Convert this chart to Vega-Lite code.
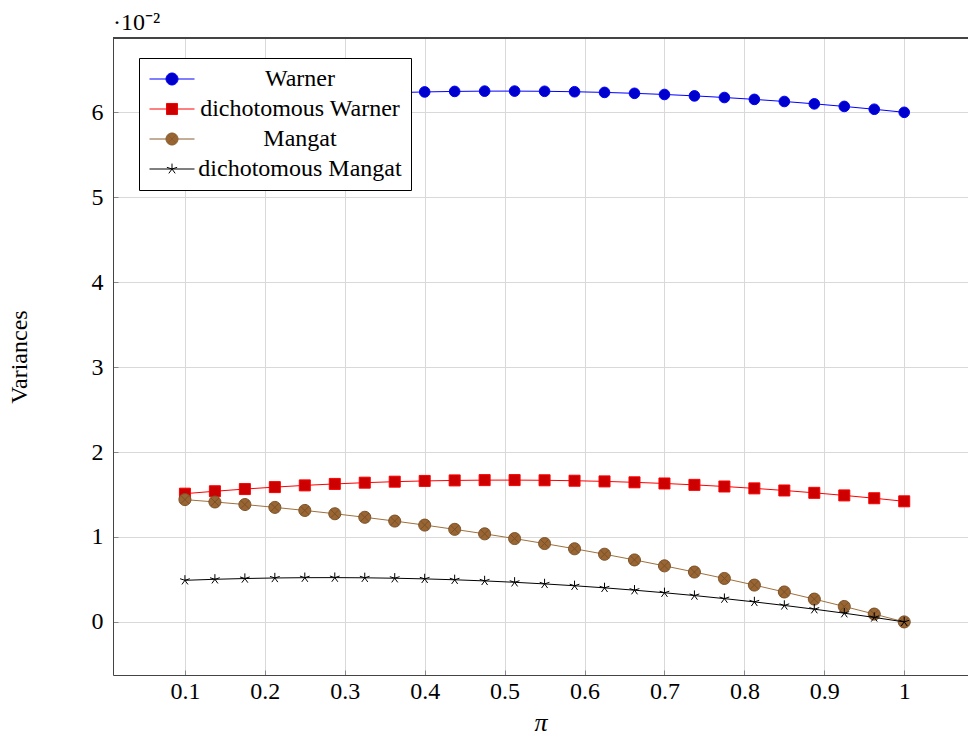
{
  "$schema": "https://vega.github.io/schema/vega-lite/v6.json",
  "width": 855,
  "height": 637,
  "autosize": {"type": "none"},
  "padding": {"left": 113, "top": 38, "right": 0, "bottom": 67},
  "background": "white",
  "config": {
    "view": {"stroke": null},
    "font": "Liberation Serif",
    "axis": {
      "labelFont": "Liberation Serif",
      "labelFontSize": 24,
      "labelColor": "#000000",
      "titleFont": "Liberation Serif",
      "titleFontSize": 24,
      "titleFontWeight": "normal",
      "titleColor": "#000000",
      "gridColor": "#d9d9d9",
      "gridWidth": 1,
      "domainColor": "#444444",
      "domainWidth": 1,
      "tickColor": "#888888",
      "tickSize": -5,
      "tickWidth": 1
    },
    "legend": {
      "labelFont": "Liberation Serif",
      "labelFontSize": 24,
      "labelColor": "#000000",
      "title": null,
      "orient": "none",
      "legendX": 26,
      "legendY": 20,
      "fillColor": "#ffffff",
      "strokeColor": "#000000",
      "padding": 9,
      "symbolOffset": 12,
      "symbolSize": 144,
      "symbolOpacity": 1,
      "symbolStrokeWidth": 1,
      "labelOffset": 116,
      "labelAlign": "center",
      "labelLimit": 400,
      "rowPadding": 6
    }
  },
  "title": {
    "text": "·10⁻²",
    "anchor": "start",
    "frame": "group",
    "font": "Liberation Serif",
    "fontSize": 24,
    "fontWeight": "normal",
    "color": "#000000",
    "offset": 3
  },
  "data": {
    "values": [
      {"pi": 0.1, "v": 6.09, "s": "Warner"},
      {"pi": 0.1375, "v": 6.1186, "s": "Warner"},
      {"pi": 0.175, "v": 6.1444, "s": "Warner"},
      {"pi": 0.2125, "v": 6.1673, "s": "Warner"},
      {"pi": 0.25, "v": 6.1875, "s": "Warner"},
      {"pi": 0.2875, "v": 6.2048, "s": "Warner"},
      {"pi": 0.325, "v": 6.2194, "s": "Warner"},
      {"pi": 0.3625, "v": 6.2311, "s": "Warner"},
      {"pi": 0.4, "v": 6.24, "s": "Warner"},
      {"pi": 0.4375, "v": 6.2461, "s": "Warner"},
      {"pi": 0.475, "v": 6.2494, "s": "Warner"},
      {"pi": 0.5125, "v": 6.2498, "s": "Warner"},
      {"pi": 0.55, "v": 6.2475, "s": "Warner"},
      {"pi": 0.5875, "v": 6.2423, "s": "Warner"},
      {"pi": 0.625, "v": 6.2344, "s": "Warner"},
      {"pi": 0.6625, "v": 6.2236, "s": "Warner"},
      {"pi": 0.7, "v": 6.21, "s": "Warner"},
      {"pi": 0.7375, "v": 6.1936, "s": "Warner"},
      {"pi": 0.775, "v": 6.1744, "s": "Warner"},
      {"pi": 0.8125, "v": 6.1523, "s": "Warner"},
      {"pi": 0.85, "v": 6.1275, "s": "Warner"},
      {"pi": 0.8875, "v": 6.0998, "s": "Warner"},
      {"pi": 0.925, "v": 6.0694, "s": "Warner"},
      {"pi": 0.9625, "v": 6.0361, "s": "Warner"},
      {"pi": 1.0, "v": 6.0, "s": "Warner"},
      {"pi": 0.1, "v": 1.51, "s": "dichotomous Warner"},
      {"pi": 0.1375, "v": 1.5386, "s": "dichotomous Warner"},
      {"pi": 0.175, "v": 1.5644, "s": "dichotomous Warner"},
      {"pi": 0.2125, "v": 1.5873, "s": "dichotomous Warner"},
      {"pi": 0.25, "v": 1.6075, "s": "dichotomous Warner"},
      {"pi": 0.2875, "v": 1.6248, "s": "dichotomous Warner"},
      {"pi": 0.325, "v": 1.6394, "s": "dichotomous Warner"},
      {"pi": 0.3625, "v": 1.6511, "s": "dichotomous Warner"},
      {"pi": 0.4, "v": 1.66, "s": "dichotomous Warner"},
      {"pi": 0.4375, "v": 1.6661, "s": "dichotomous Warner"},
      {"pi": 0.475, "v": 1.6694, "s": "dichotomous Warner"},
      {"pi": 0.5125, "v": 1.6698, "s": "dichotomous Warner"},
      {"pi": 0.55, "v": 1.6675, "s": "dichotomous Warner"},
      {"pi": 0.5875, "v": 1.6623, "s": "dichotomous Warner"},
      {"pi": 0.625, "v": 1.6544, "s": "dichotomous Warner"},
      {"pi": 0.6625, "v": 1.6436, "s": "dichotomous Warner"},
      {"pi": 0.7, "v": 1.63, "s": "dichotomous Warner"},
      {"pi": 0.7375, "v": 1.6136, "s": "dichotomous Warner"},
      {"pi": 0.775, "v": 1.5944, "s": "dichotomous Warner"},
      {"pi": 0.8125, "v": 1.5723, "s": "dichotomous Warner"},
      {"pi": 0.85, "v": 1.5475, "s": "dichotomous Warner"},
      {"pi": 0.8875, "v": 1.5198, "s": "dichotomous Warner"},
      {"pi": 0.925, "v": 1.4894, "s": "dichotomous Warner"},
      {"pi": 0.9625, "v": 1.4561, "s": "dichotomous Warner"},
      {"pi": 1.0, "v": 1.42, "s": "dichotomous Warner"},
      {"pi": 0.1, "v": 1.44, "s": "Mangat"},
      {"pi": 0.1375, "v": 1.4123, "s": "Mangat"},
      {"pi": 0.175, "v": 1.3819, "s": "Mangat"},
      {"pi": 0.2125, "v": 1.3486, "s": "Mangat"},
      {"pi": 0.25, "v": 1.3125, "s": "Mangat"},
      {"pi": 0.2875, "v": 1.2736, "s": "Mangat"},
      {"pi": 0.325, "v": 1.2319, "s": "Mangat"},
      {"pi": 0.3625, "v": 1.1873, "s": "Mangat"},
      {"pi": 0.4, "v": 1.14, "s": "Mangat"},
      {"pi": 0.4375, "v": 1.0898, "s": "Mangat"},
      {"pi": 0.475, "v": 1.0369, "s": "Mangat"},
      {"pi": 0.5125, "v": 0.9811, "s": "Mangat"},
      {"pi": 0.55, "v": 0.9225, "s": "Mangat"},
      {"pi": 0.5875, "v": 0.8611, "s": "Mangat"},
      {"pi": 0.625, "v": 0.7969, "s": "Mangat"},
      {"pi": 0.6625, "v": 0.7298, "s": "Mangat"},
      {"pi": 0.7, "v": 0.66, "s": "Mangat"},
      {"pi": 0.7375, "v": 0.5873, "s": "Mangat"},
      {"pi": 0.775, "v": 0.5119, "s": "Mangat"},
      {"pi": 0.8125, "v": 0.4336, "s": "Mangat"},
      {"pi": 0.85, "v": 0.3525, "s": "Mangat"},
      {"pi": 0.8875, "v": 0.2686, "s": "Mangat"},
      {"pi": 0.925, "v": 0.1819, "s": "Mangat"},
      {"pi": 0.9625, "v": 0.0923, "s": "Mangat"},
      {"pi": 1.0, "v": 0.0, "s": "Mangat"},
      {"pi": 0.1, "v": 0.49, "s": "dichotomous Mangat"},
      {"pi": 0.1375, "v": 0.5019, "s": "dichotomous Mangat"},
      {"pi": 0.175, "v": 0.511, "s": "dichotomous Mangat"},
      {"pi": 0.2125, "v": 0.5173, "s": "dichotomous Mangat"},
      {"pi": 0.25, "v": 0.5208, "s": "dichotomous Mangat"},
      {"pi": 0.2875, "v": 0.5215, "s": "dichotomous Mangat"},
      {"pi": 0.325, "v": 0.5194, "s": "dichotomous Mangat"},
      {"pi": 0.3625, "v": 0.5144, "s": "dichotomous Mangat"},
      {"pi": 0.4, "v": 0.5067, "s": "dichotomous Mangat"},
      {"pi": 0.4375, "v": 0.4961, "s": "dichotomous Mangat"},
      {"pi": 0.475, "v": 0.4827, "s": "dichotomous Mangat"},
      {"pi": 0.5125, "v": 0.4665, "s": "dichotomous Mangat"},
      {"pi": 0.55, "v": 0.4475, "s": "dichotomous Mangat"},
      {"pi": 0.5875, "v": 0.4257, "s": "dichotomous Mangat"},
      {"pi": 0.625, "v": 0.401, "s": "dichotomous Mangat"},
      {"pi": 0.6625, "v": 0.3736, "s": "dichotomous Mangat"},
      {"pi": 0.7, "v": 0.3433, "s": "dichotomous Mangat"},
      {"pi": 0.7375, "v": 0.3103, "s": "dichotomous Mangat"},
      {"pi": 0.775, "v": 0.2744, "s": "dichotomous Mangat"},
      {"pi": 0.8125, "v": 0.2357, "s": "dichotomous Mangat"},
      {"pi": 0.85, "v": 0.1942, "s": "dichotomous Mangat"},
      {"pi": 0.8875, "v": 0.1498, "s": "dichotomous Mangat"},
      {"pi": 0.925, "v": 0.1027, "s": "dichotomous Mangat"},
      {"pi": 0.9625, "v": 0.0528, "s": "dichotomous Mangat"},
      {"pi": 1.0, "v": 0.0, "s": "dichotomous Mangat"}
    ]
  },
  "encoding": {
    "x": {
      "field": "pi",
      "type": "quantitative",
      "scale": {"domain": [0.01, 1.0798], "nice": false, "zero": false},
      "axis": {
        "values": [0.1, 0.2, 0.3, 0.4, 0.5, 0.6, 0.7, 0.8, 0.9, 1.0],
        "format": ".1~f",
        "title": "π",
        "titleFontStyle": "italic",
        "titleFontSize": 26,
        "titleAnchor": "middle",
        "titlePadding": 6,
        "labelPadding": 9,
        "labelFlush": false,
        "grid": true
      }
    },
    "y": {
      "field": "v",
      "type": "quantitative",
      "scale": {"domain": [-0.625, 6.875], "nice": false, "zero": false},
      "axis": {
        "values": [0, 1, 2, 3, 4, 5, 6],
        "format": "d",
        "title": "Variances",
        "titlePadding": 60,
        "labelPadding": 15,
        "labelFlush": false,
        "grid": true
      }
    }
  },
  "layer": [
    {
      "mark": {"type": "rule", "color": "#444444", "strokeWidth": 1},
      "encoding": {"y": {"datum": 6.875}, "x": null}
    },
    {
      "transform": [{"filter": {"field": "s", "equal": "Warner"}}],
      "mark": {"type": "line", "strokeWidth": 1, "color": "#0000ff"},
      "encoding": {}
    },
    {
      "transform": [{"filter": {"field": "s", "equal": "Warner"}}],
      "mark": {"type": "point", "filled": false, "shape": "circle", "size": 113, "fill": "#0000cc", "stroke": "#0000ff", "strokeWidth": 1, "opacity": 1},
      "encoding": {}
    },
    {
      "transform": [{"filter": {"field": "s", "equal": "dichotomous Warner"}}],
      "mark": {"type": "line", "strokeWidth": 1, "color": "#ff0000"},
      "encoding": {}
    },
    {
      "transform": [{"filter": {"field": "s", "equal": "dichotomous Warner"}}],
      "mark": {"type": "point", "filled": false, "shape": "square", "size": 121, "fill": "#cc0000", "stroke": "#ff0000", "strokeWidth": 1, "opacity": 1},
      "encoding": {}
    },
    {
      "transform": [{"filter": {"field": "s", "equal": "Mangat"}}],
      "mark": {"type": "line", "strokeWidth": 1, "color": "#a0703c"},
      "encoding": {}
    },
    {
      "transform": [{"filter": {"field": "s", "equal": "Mangat"}}],
      "mark": {"type": "point", "filled": false, "shape": "M-1,0A1,1 0 1,1 1,0A1,1 0 1,1 -1,0ZM-0.707,-0.707L0.707,0.707M-0.707,0.707L0.707,-0.707", "size": 144, "fill": "#996633", "stroke": "#7a5028", "strokeWidth": 1, "opacity": 1},
      "encoding": {}
    },
    {
      "transform": [{"filter": {"field": "s", "equal": "dichotomous Mangat"}}],
      "mark": {"type": "line", "strokeWidth": 1, "color": "#000000"},
      "encoding": {}
    },
    {
      "transform": [{"filter": {"field": "s", "equal": "dichotomous Mangat"}}],
      "mark": {"type": "point", "filled": false, "shape": "M0,0L0,-0.9M0,0L0.856,-0.278M0,0L0.529,0.728M0,0L-0.529,0.728M0,0L-0.856,-0.278", "size": 130, "fill": "transparent", "stroke": "#000000", "strokeWidth": 1, "opacity": 1},
      "encoding": {}
    },
    {
      "mark": {"type": "point", "opacity": 0, "filled": false},
      "encoding": {
        "shape": {
          "field": "s",
          "type": "nominal",
          "scale": {
            "domain": ["Warner", "dichotomous Warner", "Mangat", "dichotomous Mangat"],
            "range": [
              "M-3.75,0H-1M1,0H3.75M1,0A1,1 0 1,1 -1,0A1,1 0 1,1 1,0Z",
              "M-3.75,0H-0.917M0.917,0H3.75M-0.917,-0.917H0.917V0.917H-0.917Z",
              "M-3.75,0H-1M1,0H3.75M1,0A1,1 0 1,1 -1,0A1,1 0 1,1 1,0ZM-0.707,-0.707L0.707,0.707M-0.707,0.707L0.707,-0.707",
              "M-3.75,0H3.75M0,0L0,-0.9M0,0L0.856,-0.278M0,0L0.529,0.728M0,0L-0.529,0.728M0,0L-0.856,-0.278"
            ]
          },
          "legend": {"title": null}
        },
        "fill": {
          "field": "s",
          "type": "nominal",
          "scale": {
            "domain": ["Warner", "dichotomous Warner", "Mangat", "dichotomous Mangat"],
            "range": ["#0000cc", "#cc0000", "#996633", "transparent"]
          },
          "legend": {"title": null}
        },
        "stroke": {
          "field": "s",
          "type": "nominal",
          "scale": {
            "domain": ["Warner", "dichotomous Warner", "Mangat", "dichotomous Mangat"],
            "range": ["#0000ff", "#ff0000", "#8a5c30", "#000000"]
          },
          "legend": {"title": null}
        }
      }
    }
  ]
}
